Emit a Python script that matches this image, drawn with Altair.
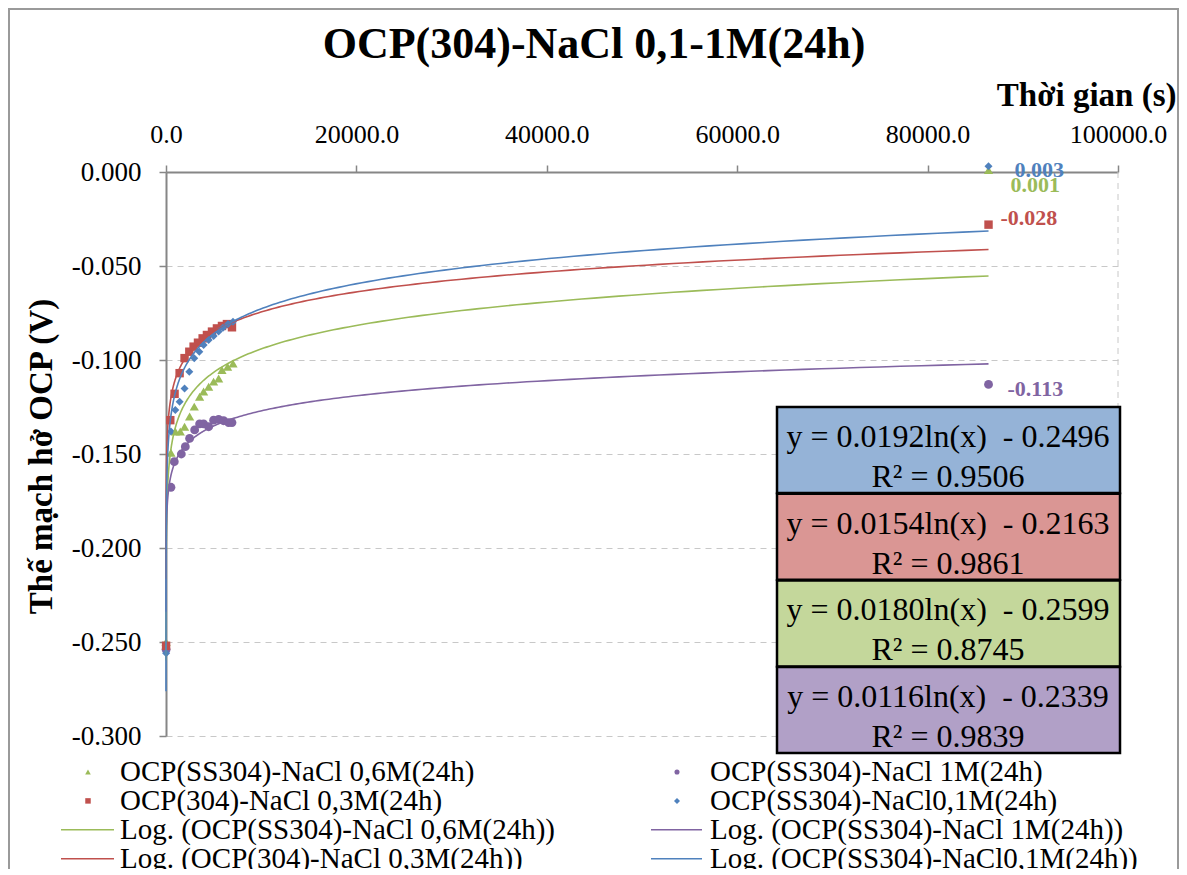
import altair as alt
import pandas as pd

# ---------------- data ----------------
series_names = [
    "OCP(SS304)-NaCl 0,6M(24h)",
    "OCP(SS304)-NaCl 1M(24h)",
    "OCP(304)-NaCl 0,3M(24h)",
    "OCP(SS304)-NaCl0,1M(24h)",
]

t_green = [10, 520, 980, 1500, 1950, 2480, 2970, 3530, 3950, 4480, 5000, 5530, 5880, 6470, 7040, 86400]
v_green = [-0.250, -0.1493, -0.138, -0.138, -0.1355, -0.130, -0.1248, -0.1195, -0.1168, -0.1142,
           -0.1115, -0.1098, -0.1053, -0.1036, -0.1018, 0.001]

t_purple = [10, 520, 870, 1610, 2030, 2480, 3010, 3530, 3950, 4480, 5000, 5530, 6050, 6580, 6930, 86400]
v_purple = [-0.254, -0.1677, -0.1541, -0.150, -0.1461, -0.1417, -0.1372, -0.134, -0.134, -0.1355,
            -0.132, -0.1316, -0.1323, -0.1333, -0.1333, -0.113]

t_red = [10, 450, 900, 1430, 1950, 2450, 2900, 3360, 3850, 4300, 4830, 5350, 5880, 6400, 6930, 86400]
v_red = [-0.252, -0.132, -0.118, -0.107, -0.099, -0.0956, -0.0929, -0.0908, -0.0885, -0.0867,
         -0.0849, -0.0832, -0.0819, -0.0809, -0.0826, -0.028]

t_blue = [10, 520, 980, 1430, 1950, 2450, 2970, 3500, 3950, 4480, 5000, 5530, 5990, 6510, 7040, 86400]
v_blue = [-0.256, -0.138, -0.1266, -0.1222, -0.1151, -0.1062, -0.0991, -0.0956, -0.092, -0.0894,
          -0.0872, -0.0849, -0.0828, -0.0809, -0.0796, 0.003]

# logarithmic trend coefficients (as printed on the chart), same order as series_names
trend_slope = [0.0180, 0.0116, 0.0154, 0.0192]
trend_intercept = [-0.2599, -0.2339, -0.2163, -0.2496]
trend_r2 = [0.8745, 0.9839, 0.9861, 0.9506]
trend_tmin = [1.0, 1.0, 1.0, 0.25]
trend_tmax = [86400, 86400, 86400, 86400]

x_ticks = [0, 20000, 40000, 60000, 80000, 100000]
y_ticks = [0.0, -0.05, -0.10, -0.15, -0.20, -0.25, -0.30]

# ---------------- styles ----------------
colors = ["#9BBB59", "#8064A2", "#C0504D", "#4F81BD"]
box_fills = ["#C4D79B", "#B1A0C7", "#DA9694", "#95B3D7"]
shapes = ["triangle-up", "circle", "square", "diamond"]
sizes = [85, 64, 72, 90]
legend_sizes = [32, 26, 30, 36]
FONT = "Liberation Serif"
W, H = 952, 564

all_t = [t_green, t_purple, t_red, t_blue]
all_v = [v_green, v_purple, v_red, v_blue]

rows = []
for name, ts, vs in zip(series_names, all_t, all_v):
    for t, v in zip(ts, vs):
        rows.append({"t": t, "v": v, "series": name})
pts_df = pd.DataFrame(rows)

x_scale = alt.Scale(domain=[0, 100000], nice=False, zero=False)
y_scale = alt.Scale(domain=[-0.3, 0.0], nice=False, zero=False)

x_axis = alt.Axis(
    orient="top", values=x_ticks, format=".1f", labelFlush=False,
    labelFont=FONT, labelFontSize=26, labelColor="black", labelPadding=18,
    domainColor="#868686", domainWidth=2, tickColor="#868686", tickWidth=1.5, tickSize=7,
    grid=False, title="Thời gian (s)", titleFont=FONT, titleFontSize=33, titleFontWeight="bold",
    titleColor="black", titleX=1010, titleY=-67, titleAlign="right", titleBaseline="alphabetic",
    titleAngle=0, labelOverlap=False,
)
y_axis = alt.Axis(
    orient="left", values=y_ticks,
    labelExpr="(datum.value < 0 ? '-' : '') + format(abs(datum.value), '.3f')",
    labelFont=FONT, labelFontSize=27, labelColor="black", labelPadding=18,
    domainColor="#868686", domainWidth=2, tickColor="#868686", tickWidth=1.5, tickSize=7,
    grid=True, gridColor="#C8C8C8", gridDash=[6, 5], gridWidth=1,
    title="Thế mạch hở OCP (V)", titleFont=FONT, titleFontSize=33, titleFontWeight="bold",
    titleColor="black", titleX=-115, titleY=H / 2 + 2, titleAngle=270, titleAlign="center",
    titleBaseline="alphabetic", labelOverlap=False,
)


def X(field):
    return alt.X(field, type="quantitative", scale=x_scale, axis=x_axis)


def Y(field):
    return alt.Y(field, type="quantitative", scale=y_scale, axis=y_axis)


layers = []

# right-edge dashed line of plot area
layers.append(
    alt.Chart(pd.DataFrame({"a": [0]})).mark_rule(color="#C8C8C8", strokeDash=[6, 5], strokeWidth=1)
    .encode(x=alt.datum(100000, type="quantitative", scale=x_scale, axis=x_axis))
)

# markers
layers.append(
    alt.Chart(pts_df).mark_point(filled=True, opacity=1).encode(
        x=X("t"), y=Y("v"),
        color=alt.Color("series:N", scale=alt.Scale(domain=series_names, range=colors), legend=None),
        shape=alt.Shape("series:N", scale=alt.Scale(domain=series_names, range=shapes), legend=None),
        size=alt.Size("series:N", scale=alt.Scale(domain=series_names, range=sizes), legend=None),
    )
)

# logarithmic trend lines
N = 400
for a, b, t0, t1, col in zip(trend_slope, trend_intercept, trend_tmin, trend_tmax, colors):
    layers.append(
        alt.Chart(alt.sequence(0, N + 1, 1, as_="i"))
        .transform_calculate(t=f"{t0}*pow({t1 / t0}, datum.i/{N})")
        .transform_calculate(v=f"{a}*log(datum.t)+({b})")
        .mark_line(color=col, strokeWidth=1.6)
        .encode(x=X("t"), y=Y("v"), order="i:Q")
    )

# data labels on last points
label_dx = [22, 19, 12, 26]
label_dy = [15, 5, -7, 4]
for name, ts, vs, col, dx, dy in zip(series_names, all_t, all_v, colors, label_dx, label_dy):
    df_last = pd.DataFrame({"t": [ts[-1]], "v": [vs[-1]], "lab": [f"{vs[-1]:.3f}"]})
    layers.append(
        alt.Chart(df_last).mark_text(
            align="left", baseline="middle", dx=dx, dy=dy, font=FONT, fontSize=22,
            fontWeight="bold", color=col,
        ).encode(x=X("t"), y=Y("v"), text="lab:N")
    )

# equation boxes (top to bottom: 0,1M ; 0,3M ; 0,6M ; 1M)
box_order = [3, 2, 0, 1]
box_rows = []
for k, i in enumerate(box_order):
    top = 235 + k * 86.7
    box_rows.append({
        "x1": 611, "x2": 954, "y1": top, "y2": top + 86,
        "fill": box_fills[i],
        "l1": f"y = {trend_slope[i]:.4f}ln(x)\u00a0\u00a0- {abs(trend_intercept[i]):.4f}",
        "l2": f"R\u00b2 = {trend_r2[i]:.4f}",
        "ty1": top + 30, "ty2": top + 70, "tx": 782,
    })
box_df = pd.DataFrame(box_rows)
layers.append(
    alt.Chart(box_df).mark_rect(stroke="black", strokeWidth=2.5).encode(
        x=alt.X("x1:Q", scale=None), x2="x2:Q",
        y=alt.Y("y1:Q", scale=None), y2="y2:Q",
        fill=alt.Fill("fill:N", scale=None),
    )
)
for line in ["1", "2"]:
    layers.append(
        alt.Chart(box_df).mark_text(font=FONT, fontSize=32, color="black", align="center",
                                    baseline="middle").encode(
            x=alt.X("tx:Q", scale=None), y=alt.Y(f"ty{line}:Q", scale=None), text=f"l{line}:N",
        )
    )

# legend (two columns, four rows)
col_of = [0, 1, 0, 1]       # green,red -> col 0 ; purple,blue -> col 1
row_of = [0, 0, 1, 1]
col_sym = [-78, 511]
col_line = [(-105, -52), (485, 536)]
col_text = [-46, 544]
row_y0, row_dy = 600, 28.9

leg_pts, leg_lines, leg_text = [], [], []
for i, name in enumerate(series_names):
    c, r = col_of[i], row_of[i]
    y_m = row_y0 + r * row_dy
    y_l = row_y0 + (r + 2) * row_dy
    leg_pts.append({"x": col_sym[c], "y": y_m, "shape": shapes[i], "color": colors[i],
                    "size": legend_sizes[i]})
    leg_lines.append({"x1": col_line[c][0], "x2": col_line[c][1], "y": y_l, "color": colors[i]})
    leg_text.append({"x": col_text[c], "y": y_m, "label": name})
    leg_text.append({"x": col_text[c], "y": y_l, "label": f"Log. ({name})"})

layers.append(
    alt.Chart(pd.DataFrame(leg_pts)).mark_point(filled=True, opacity=1).encode(
        x=alt.X("x:Q", scale=None), y=alt.Y("y:Q", scale=None),
        shape=alt.Shape("shape:N", scale=None), color=alt.Color("color:N", scale=None),
        size=alt.Size("size:Q", scale=None),
    )
)
layers.append(
    alt.Chart(pd.DataFrame(leg_lines)).mark_rule(strokeWidth=1.6).encode(
        x=alt.X("x1:Q", scale=None), x2="x2:Q", y=alt.Y("y:Q", scale=None),
        color=alt.Color("color:N", scale=None),
    )
)
layers.append(
    alt.Chart(pd.DataFrame(leg_text)).mark_text(font=FONT, fontSize=29, color="black",
                                                 align="left", baseline="middle").encode(
        x=alt.X("x:Q", scale=None), y=alt.Y("y:Q", scale=None), text="label:N",
    )
)

# chart title
layers.append(
    alt.Chart(pd.DataFrame({"a": [0]})).mark_text(
        font=FONT, fontSize=44, fontWeight="bold", color="black", align="center",
        baseline="alphabetic",
    ).encode(x=alt.value(428), y=alt.value(-114), text=alt.value("OCP(304)-NaCl 0,1-1M(24h)"))
)

# outer chart-area border
layers.append(
    alt.Chart(pd.DataFrame({"a": [0]})).mark_rect(filled=False, stroke="#9A9A9A", strokeWidth=2)
    .encode(x=alt.value(-157), x2=alt.value(1012), y=alt.value(-163), y2=alt.value(760))
)

chart = alt.layer(*layers).properties(
    width=W, height=H,
    autosize=alt.AutoSizeParams(type="none"),
    padding={"left": 158, "top": 164, "right": 61, "bottom": 133},
    background="white",
).configure_view(stroke=None)

chart.save("out.html", embed_options={"renderer": "svg", "actions": False})
